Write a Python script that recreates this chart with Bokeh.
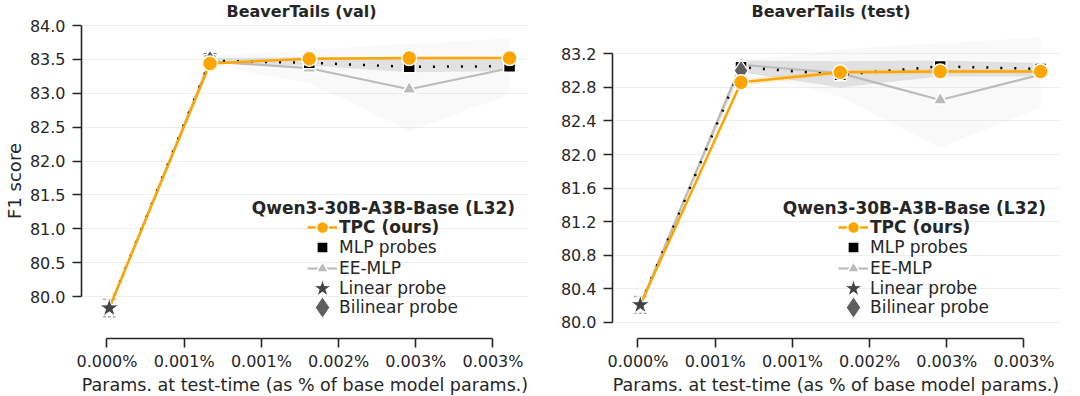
from bokeh.plotting import figure
from bokeh.layouts import row
from bokeh.models import (ColumnDataSource, FixedTicker, Legend, LegendItem, Label,
                          Whisker, TeeHead, Range1d, Title, PrintfTickFormatter)
from bokeh.embed import file_html
from bokeh.resources import INLINE

FONT = "DejaVu Sans"
INK = "#262626"

# ---------------- data ----------------
# x = parameters used at test time (absolute count); labels show % of base model params
x_params = [6000, 267000, 524000, 783000, 1043000]
x_ticks = [0, 200000, 400000, 600000, 800000, 1000000]
x_tick_labels = ["0.000%", "0.001%", "0.001%", "0.002%", "0.003%", "0.003%"]

titles = ["BeaverTails (val)", "BeaverTails (test)"]
legend_title = "Qwen3-30B-A3B-Base (L32)"
series_names = ["TPC (ours)", "MLP probes", "EE-MLP", "Linear probe", "Bilinear probe"]

y_ticks_val = [80.0, 80.5, 81.0, 81.5, 82.0, 82.5, 83.0, 83.5, 84.0]
y_ticks_test = [80.0, 80.4, 80.8, 81.2, 81.6, 82.0, 82.4, 82.8, 83.2]

# BeaverTails (val)
tpc_val = [79.83, 83.44, 83.51, 83.52, 83.52]
tpc_val_lo = [79.83, 83.43, 83.50, 83.51, 83.51]
tpc_val_hi = [79.83, 83.45, 83.52, 83.53, 83.53]
mlp_val = [79.83, 83.48, 83.45, 83.39, 83.40]
mlp_val_lo = [79.83, 83.44, 83.41, 83.31, 83.33]
mlp_val_hi = [79.83, 83.52, 83.53, 83.51, 83.49]
ee_val = [79.83, 83.47, 83.37, 83.06, 83.37]
ee_val_lo = [79.83, 83.42, 83.15, 82.44, 82.98]
ee_val_hi = [79.83, 83.55, 83.64, 83.73, 83.81]
linear_val, linear_val_err = 79.83, 0.13
bilinear_val, bilinear_val_err = 83.48, 0.10

# BeaverTails (test)
tpc_test = [80.21, 82.86, 82.98, 82.99, 82.99]
tpc_test_lo = [80.21, 82.82, 82.95, 82.96, 82.97]
tpc_test_hi = [80.21, 82.90, 83.01, 83.02, 83.01]
mlp_test = [80.21, 83.04, 82.95, 83.05, 83.02]
mlp_test_lo = [80.21, 82.98, 82.80, 82.93, 82.93]
mlp_test_hi = [80.21, 83.12, 83.11, 83.12, 83.09]
ee_test = [80.21, 83.07, 82.97, 82.65, 82.95]
ee_test_lo = [80.21, 83.00, 82.69, 82.08, 82.56]
ee_test_hi = [80.21, 83.12, 83.25, 83.33, 83.39]
linear_test, linear_test_err = 80.21, 0.10
bilinear_test, bilinear_test_err = 83.00, 0.09

ORANGE = "#FFA500"
GREY = "#BBBBBB"
STAR = "#444444"
DIAM = "#5E5E5E"

# legend rows (one Legend per row): bottom offset from frame bottom, glyph width, standoff
legend_rows = [91, 71, 50, 30, 11]
legend_glyph_w = [30, 28, 30, 30, 30]
legend_standoff = [2, 3, 2, 2, 2]


def make_panel(title, title_offset, y_range, y_ticks, tpc, tpc_lo, tpc_hi, mlp, mlp_lo,
               mlp_hi, ee, ee_lo, ee_hi, lin, lin_err, bil, bil_err, left_border,
               right_border, y_label, label_y):
    p = figure(frame_width=447, frame_height=315,
               min_border_left=left_border, min_border_right=right_border,
               min_border_top=22, min_border_bottom=59,
               x_range=Range1d(-66000, 1092000), y_range=Range1d(*y_range),
               output_backend="svg", toolbar_location=None,
               outline_line_color=None, background_fill_color="white",
               border_fill_color="white")
    p.title = Title(text=title, align="left", offset=title_offset, text_font=FONT,
                    text_font_size="16px", text_font_style="bold", text_color=INK,
                    standoff=2, vertical_align="top", text_line_height=1.0)

    src = ColumnDataSource(dict(x=x_params, tpc=tpc, tpc_lo=tpc_lo, tpc_hi=tpc_hi,
                                mlp=mlp, mlp_lo=mlp_lo, mlp_hi=mlp_hi,
                                ee=ee, ee_lo=ee_lo, ee_hi=ee_hi))
    msrc = ColumnDataSource(dict(x=x_params[1:], tpc=tpc[1:], mlp=mlp[1:], ee=ee[1:]))

    # uncertainty bands
    p.varea(x="x", y1="ee_lo", y2="ee_hi", source=src, fill_color="#DDDDDD", fill_alpha=0.18)
    p.varea(x="x", y1="mlp_lo", y2="mlp_hi", source=src, fill_color="#9A9A9A", fill_alpha=0.25)
    p.varea(x="x", y1="tpc_lo", y2="tpc_hi", source=src, fill_color=ORANGE, fill_alpha=0.15)

    # lines
    ee_line = p.line("x", "ee", source=src, line_color=GREY, line_width=2.2)
    p.line("x", "mlp", source=src, line_color="black", line_width=2.5,
           line_dash="2 12", line_cap="butt")
    tpc_line = p.line("x", "tpc", source=src, line_color=ORANGE, line_width=2.5)

    # markers
    ee_m = p.scatter("x", "ee", source=msrc, marker="triangle", size=14,
                     fill_color=GREY, line_color="white", line_width=1.5)
    mlp_m = p.scatter("x", "mlp", source=msrc, marker="square", size=12,
                      fill_color="black", line_color="white", line_width=1.5)
    bil_m = p.scatter(x=[x_params[1]], y=[bil], marker="diamond", size=21,
                      fill_color=DIAM, line_color="white", line_width=1.2)
    lin_m = p.scatter(x=[x_params[0]], y=[lin], marker="star", size=20,
                      fill_color=STAR, line_color="white", line_width=1.0)
    tpc_m = p.scatter("x", "tpc", source=msrc, marker="circle", size=15,
                      fill_color=ORANGE, line_color="white", line_width=1.5)

    # error caps
    for xv, yv, err, col, dash in [(x_params[0], lin, lin_err, "#AAAAAA", "3 2"),
                                  (x_params[1], bil, bil_err, "#555555", "3 2")]:
        wsrc = ColumnDataSource(dict(x=[xv], u=[yv + err], l=[yv - err]))
        w = Whisker(base="x", upper="u", lower="l", source=wsrc, dimension="height",
                    line_alpha=0,
                    upper_head=TeeHead(size=13, line_color=col, line_width=1.5, line_dash=dash),
                    lower_head=TeeHead(size=13, line_color=col, line_width=1.5, line_dash=dash))
        p.add_layout(w)

    # axes
    p.xaxis.ticker = FixedTicker(ticks=x_ticks, minor_ticks=[])
    p.xaxis.major_label_overrides = {t: l for t, l in zip(x_ticks, x_tick_labels)}
    p.xaxis.bounds = (x_ticks[0], x_ticks[-1])
    p.xaxis.axis_label = "Params. at test-time (as % of base model params.)"
    p.yaxis.ticker = FixedTicker(ticks=y_ticks, minor_ticks=[])
    p.yaxis.formatter = PrintfTickFormatter(format="%.1f")
    p.yaxis.bounds = (y_ticks[0], y_ticks[-1])
    if y_label:
        p.yaxis.axis_label = y_label
    for ax in (p.xaxis[0], p.yaxis[0]):
        ax.axis_line_color = INK
        ax.axis_line_width = 1.6
        ax.major_tick_line_color = INK
        ax.major_tick_line_width = 1.6
        ax.major_tick_out = 9
        ax.major_tick_in = 0
        ax.minor_tick_out = 0
        ax.minor_tick_in = 0
        ax.major_label_text_font = FONT
        ax.major_label_text_font_size = "16px"
        ax.major_label_text_color = INK
        ax.axis_label_text_font = FONT
        ax.axis_label_text_font_style = "normal"
        ax.axis_label_text_color = INK
    p.xaxis.axis_label_text_font_size = "17.5px"
    p.yaxis.axis_label_text_font_size = "18px"
    p.xaxis.major_label_standoff = 4
    p.xaxis.axis_label_standoff = 1
    p.yaxis.major_label_standoff = 7
    p.yaxis.axis_label_standoff = 2

    p.xgrid.visible = False
    p.ygrid.grid_line_color = "#EEEEEE"
    p.ygrid.grid_line_width = 1

    # legend (title as a label, one legend per row so rows sit exactly)
    p.add_layout(Label(x=375000, y=label_y, text=legend_title, text_font=FONT,
                       text_font_size="17px", text_font_style="bold", text_color=INK,
                       text_baseline="middle"))
    item_renderers = [[tpc_line, tpc_m], [mlp_m], [ee_line, ee_m], [lin_m], [bil_m]]
    for i, (name, rends) in enumerate(zip(series_names, item_renderers)):
        gw = legend_glyph_w[i]
        leg = Legend(items=[LegendItem(label=name, renderers=rends)],
                     location=(241 - gw // 2, legend_rows[i]),
                     padding=0, margin=0, spacing=0, glyph_width=gw, glyph_height=40,
                     label_height=40, label_standoff=legend_standoff[i],
                     background_fill_alpha=0, border_line_alpha=0,
                     label_text_font=FONT, label_text_font_size="17px",
                     label_text_color=INK,
                     label_text_font_style="bold" if i == 0 else "normal")
        p.add_layout(leg)
    # larger star / diamond glyphs drawn over their legend rows
    for row_i, rend, box in [(3, lin_m, 46), (4, bil_m, 56)]:
        big = Legend(items=[LegendItem(label=" ", renderers=[rend])],
                     location=(241 - box // 2, legend_rows[row_i] + 20 - box // 2),
                     padding=0, margin=0, spacing=0, glyph_width=box, glyph_height=box,
                     label_height=box, label_standoff=0, background_fill_alpha=0,
                     border_line_alpha=0, label_text_font_size="1px")
        p.add_layout(big)
    return p


p1 = make_panel(titles[0], 145, (79.38, 84.03), y_ticks_val,
                tpc_val, tpc_val_lo, tpc_val_hi, mlp_val, mlp_val_lo, mlp_val_hi,
                ee_val, ee_val_lo, ee_val_hi, linear_val, linear_val_err,
                bilinear_val, bilinear_val_err, 81, 20, "F1 score", 81.30)
p2 = make_panel(titles[1], 139, (79.809, 83.561), y_ticks_test,
                tpc_test, tpc_test_lo, tpc_test_hi, mlp_test, mlp_test_lo, mlp_test_hi,
                ee_test, ee_test_lo, ee_test_hi, linear_test, linear_test_err,
                bilinear_test, bilinear_test_err, 64, 13, None, 81.358)

layout = row(p1, p2, spacing=0)
open("out.html", "w").write(file_html(layout, INLINE))
